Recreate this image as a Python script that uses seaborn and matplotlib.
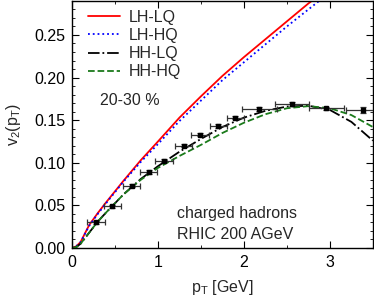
import matplotlib
matplotlib.use("Agg")
import matplotlib.pyplot as plt
import numpy as np
import pandas as pd
import seaborn as sns
from matplotlib.ticker import MultipleLocator

# model curves
pt = [0.0, 0.05, 0.1, 0.2, 0.3, 0.4, 0.6, 0.8, 1.0, 1.25, 1.5, 1.75,
      2.0, 2.25, 2.5, 2.75, 3.0, 3.25, 3.5]
lh_lq = [0.0, 0.002, 0.007, 0.027, 0.041, 0.054, 0.079, 0.103, 0.125, 0.153,
         0.178, 0.202, 0.224, 0.245, 0.266, 0.287, 0.306, 0.324, 0.342]
lh_hq = [0.0, 0.002, 0.007, 0.026, 0.040, 0.053, 0.078, 0.101, 0.122, 0.149,
         0.173, 0.197, 0.218, 0.239, 0.260, 0.280, 0.300, 0.318, 0.335]
hh_lq = [0.0, 0.001, 0.005, 0.018, 0.031, 0.042, 0.063, 0.081, 0.096, 0.113,
         0.128, 0.142, 0.153, 0.161, 0.166, 0.167, 0.162, 0.148, 0.126]
hh_hq = [0.0, 0.001, 0.005, 0.018, 0.031, 0.042, 0.063, 0.080, 0.094, 0.108,
         0.121, 0.135, 0.147, 0.157, 0.164, 0.1665, 0.164, 0.156, 0.142]

# charged hadron data
data_pt = [0.28, 0.47, 0.695, 0.89, 1.07, 1.30, 1.49, 1.70, 1.90, 2.18, 2.56, 2.96, 3.39]
data_v2 = [0.030, 0.049, 0.073, 0.089, 0.1025, 0.120, 0.133, 0.143, 0.153, 0.163, 0.169, 0.164, 0.162]
data_xerr = [0.1, 0.1, 0.1, 0.1, 0.1, 0.1, 0.1, 0.1, 0.1, 0.2, 0.2, 0.2, 0.2]
data_yerr = [0.002, 0.002, 0.002, 0.002, 0.002, 0.002, 0.002, 0.002, 0.002, 0.002, 0.002, 0.002, 0.004]

labels = ["LH-LQ", "LH-HQ", "HH-LQ", "HH-HQ"]

sns.set_theme(style="ticks")
plt.rcParams["font.family"] = ["Liberation Sans", "DejaVu Sans"]
plt.rcParams["mathtext.fontset"] = "custom"
plt.rcParams["mathtext.rm"] = "Liberation Sans"
plt.rcParams["mathtext.it"] = "Liberation Sans"

FS = 11.5

df = pd.DataFrame({
    "pt": pt * 4,
    "v2": lh_lq + lh_hq + hh_lq + hh_hq,
    "model": [m for m in labels for _ in pt],
})

fig = plt.figure(figsize=(3.74, 2.99), dpi=100)
ax = fig.add_axes([0.1925, 0.1706, 0.8045, 0.8264])

palette = {"LH-LQ": "#ff0000", "LH-HQ": "#0000ff", "HH-LQ": "#000000", "HH-HQ": "#1a7a1a"}
styles = {"LH-LQ": "-", "LH-HQ": ":", "HH-LQ": "-.", "HH-HQ": "--"}

for m in labels:
    sub = df[df["model"] == m]
    sns.lineplot(data=sub, x="pt", y="v2", ax=ax, color=palette[m],
                 linestyle=styles[m], linewidth=1.3, label=m)

ax.errorbar(data_pt, data_v2, xerr=data_xerr, yerr=data_yerr, fmt="s",
            color="black", markersize=3, elinewidth=0.9, capsize=2,
            capthick=0.9, ecolor="#333333", zorder=5)

ax.set_xlim(0, 3.5)
ax.set_ylim(0, 0.29)
ax.xaxis.set_major_locator(MultipleLocator(1))
ax.xaxis.set_minor_locator(MultipleLocator(0.5))
ax.yaxis.set_major_locator(MultipleLocator(0.05))
ax.yaxis.set_minor_locator(MultipleLocator(0.01))
ax.yaxis.set_major_formatter(matplotlib.ticker.FormatStrFormatter("%.2f"))
ax.tick_params(which="both", direction="in", top=True, right=True,
               labelsize=FS, colors="black")
ax.tick_params(which="major", length=5, width=0.8, pad=5)
ax.tick_params(which="minor", length=2.5, width=0.6)
for s in ax.spines.values():
    s.set_color("black")
    s.set_linewidth(1.0)

ax.set_xlabel(r"p$_\mathrm{T}$ [GeV]", fontsize=FS, labelpad=6)
ax.set_ylabel(r"v$_2$(p$_\mathrm{T}$)", fontsize=FS, labelpad=8)

ax.text(0.325, 0.168, "20-30 %", fontsize=FS)
ax.text(1.22, 0.035, "charged hadrons", fontsize=FS)
ax.text(1.22, 0.0106, "RHIC 200 AGeV", fontsize=FS)

leg = ax.legend(loc="upper left", frameon=False, fontsize=FS,
                handlelength=2.0, handletextpad=0.6, labelspacing=0.2,
                borderaxespad=0.0, bbox_to_anchor=(0.031, 0.99))

fig.savefig("out.png", dpi=100)
